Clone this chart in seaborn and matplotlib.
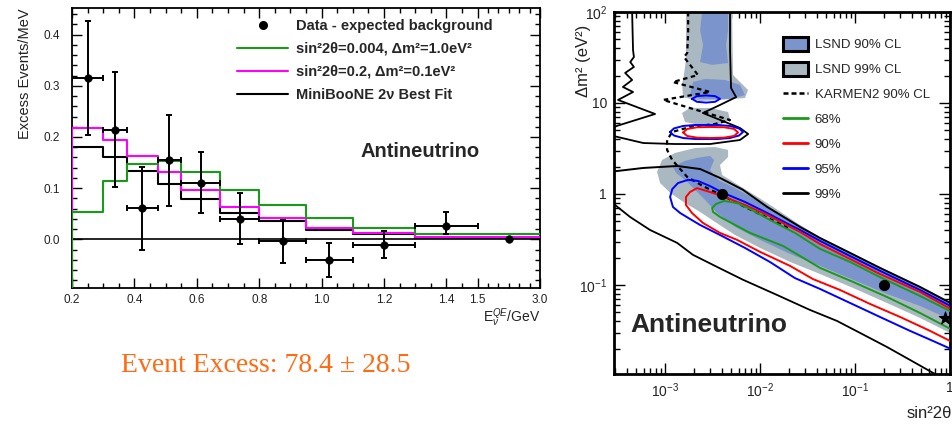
import numpy as np
import matplotlib
matplotlib.use("Agg")
import matplotlib.pyplot as plt
import seaborn as sns
from matplotlib.lines import Line2D
from matplotlib.patches import Patch
from matplotlib.ticker import FixedLocator, LogLocator, NullFormatter

# ---------------- left panel data ----------------
bin_edges = [0.2, 0.3, 0.375, 0.475, 0.55, 0.675, 0.8, 0.95, 1.1, 1.3, 1.5, 3.0]
green_hist = [0.054, 0.114, 0.148, 0.154, 0.131, 0.097, 0.067, 0.042, 0.022, 0.010, 0.010]
pink_hist = [0.218, 0.195, 0.163, 0.131, 0.097, 0.064, 0.041, 0.023, 0.012, 0.005, 0.005]
best_hist = [0.181, 0.160, 0.134, 0.108, 0.078, 0.052, 0.035, 0.018, 0.010, 0.003, 0.003]

data_x = [0.25, 0.3375, 0.425, 0.5125, 0.6125, 0.7375, 0.875, 1.025, 1.2, 1.4, 2.25]
data_y = [0.315, 0.214, 0.061, 0.155, 0.111, 0.040, -0.003, -0.040, -0.011, 0.026, 0.0]
data_y_hi = [0.427, 0.327, 0.142, 0.242, 0.171, 0.090, 0.037, -0.008, 0.016, 0.053, 0.0]
data_y_lo = [0.204, 0.103, -0.020, 0.065, 0.051, -0.010, -0.046, -0.073, -0.037, 0.010, 0.0]
data_x_lo = [0.2, 0.3, 0.375, 0.475, 0.55, 0.675, 0.8, 0.95, 1.1, 1.3, 2.25]
data_x_hi = [0.3, 0.375, 0.475, 0.55, 0.675, 0.8, 0.95, 1.1, 1.3, 1.5, 2.25]

xtick_vals = [0.2, 0.4, 0.6, 0.8, 1.0, 1.2, 1.4, 1.5, 3.0]
xtick_labels = ["0.2", "0.4", "0.6", "0.8", "1.0", "1.2", "1.4", "1.5", "3.0"]
ytick_vals = [0.0, 0.1, 0.2, 0.3, 0.4]
ytick_labels = ["0.0", "0.1", "0.2", "0.3", "0.4"]
legend_left_labels = ["Data - expected background",
                      "sin²2θ=0.004, Δm²=1.0eV²",
                      "sin²2θ=0.2, Δm²=0.1eV²",
                      "MiniBooNE 2ν Best Fit"]

# ---------------- right panel data ----------------
lsnd99_top_x = [1.66e-3, 1.66e-3, 1.58e-3, 1.51e-3, 1.55e-3, 2.34e-3, 3.79e-3, 6.95e-3, 7.48e-3, 6.15e-3, 5.20e-3, 5.07e-3]
lsnd99_top_y = [100, 29.7, 20.3, 15.8, 11.6, 10.5, 10.8, 11.35, 13.9, 17.0, 20.3, 100]
lsnd99_mid_x = [1.51e-3, 1.83e-3, 2.98e-3, 4.61e-3, 4.83e-3, 3.79e-3, 2.34e-3, 1.62e-3]
lsnd99_mid_y = [7.76, 8.81, 8.81, 7.96, 6.50, 5.88, 5.73, 6.18]
lsnd99_low_x = [8.24e-4, 9.29e-4, 1.27e-3, 2.07e-3, 3.36e-3, 4.61e-3, 4.61e-3, 3.79e-3, 3.98e-3, 6.15e-3,
                0.0119, 0.0264, 0.0428, 0.0886, 0.183, 0.483, 1.27, 1.27, 0.483, 0.217,
                0.0953, 0.0428, 0.0207, 0.01, 5.46e-3, 3.36e-3, 2.34e-3, 1.62e-3, 1.13e-3, 8.86e-4]
lsnd99_low_y = [1.75, 2.36, 2.82, 3.20, 3.28, 3.05, 2.55, 2.08, 1.62, 1.22,
                0.796, 0.456, 0.337, 0.231, 0.158, 0.0975, 0.0573, 0.0262, 0.0434, 0.0634,
                0.0927, 0.132, 0.179, 0.255, 0.354, 0.492, 0.634, 0.796, 1.03, 1.32]

lsnd90_top_x = [2.45e-3, 4.61e-3, 4.61e-3, 4.39e-3, 4.61e-3, 3.13e-3, 2.34e-3, 2.51e-3, 2.34e-3]
lsnd90_top_y = [100, 100, 63.4, 43.3, 27.5, 26.2, 28.2, 43.3, 63.4]
lsnd90_mid_x = [1.97e-3, 2.64e-3, 4.28e-3, 6.15e-3, 6.95e-3, 4.83e-3, 2.34e-3, 1.83e-3]
lsnd90_mid_y = [17.0, 18.4, 17.9, 15.8, 12.2, 11.1, 11.1, 12.2]
lsnd90_low_x = [1.21e-3, 1.62e-3, 2.17e-3, 2.98e-3, 3.28e-3, 2.98e-3, 3.61e-3, 5.46e-3, 0.0119, 0.0264,
                0.0428, 0.0886, 0.183, 0.483, 1.27, 1.27, 0.483, 0.217, 0.0953, 0.0428,
                0.0207, 0.01, 5.46e-3, 3.52e-3, 2.64e-3, 2.07e-3, 1.62e-3, 1.31e-3]
lsnd90_low_y = [1.98, 2.31, 2.49, 2.62, 2.36, 1.84, 1.43, 1.16, 0.738, 0.445,
                0.328, 0.225, 0.154, 0.0951, 0.0559, 0.0373, 0.0588, 0.0796, 0.114, 0.162,
                0.219, 0.313, 0.434, 0.618, 0.859, 1.11, 1.43, 1.70]

karmen_x = [1.75e-3, 1.75e-3, 1.71e-3, 1.58e-3, 2.22e-3, 1.21e-3, 2.98e-3, 9.53e-4, 4.83e-3, 3.36e-3,
            1.83e-3, 1.19e-3, 1.05e-3, 1.05e-3, 1.19e-3, 1.71e-3, 2.51e-3, 4.08e-3, 6.95e-3, 0.0127, 0.0207]
karmen_y = [100, 58.8, 35.4, 32.0, 20.3, 17.0, 13.2, 10.8, 6.50, 5.88,
            5.45, 4.80, 3.92, 3.05, 2.36, 1.54, 1.22, 0.951, 0.720, 0.531, 0.412]

cl99_a_x = [4.5e-4, 4.6e-4, 4.7e-4, 4.3e-4, 4.7e-4, 3.8e-4, 4.5e-4, 3.6e-4, 4.6e-4, 3.2e-4,
            7.85e-4, 3.1e-4, 2.3e-4, 2.85e-4, 5.9e-4, 1.27e-3, 2.98e-3, 6.15e-3, 7.5e-3, 6.15e-3,
            4.3e-3, 2.5e-3, 3.6e-3, 5.6e-3, 4.95e-3, 4.83e-3, 4.83e-3]
cl99_a_y = [100, 38.2, 32.0, 28.2, 24.9, 21.4, 17.9, 15.0, 13.2, 10.8,
            7.57, 5.59, 4.8, 4.34, 3.63, 3.54, 3.54, 3.92, 4.56, 5.31,
            6.18, 7.76, 9.27, 11.6, 14.6, 38.2, 100]
cl99_b_x = [2.07e-4, 5.86e-4, 1.34e-3, 2.34e-3, 3.79e-3, 6.62e-3, 0.0119, 0.0264, 0.0428, 0.0886, 0.183, 0.483, 1.27]
cl99_b_y = [1.70, 1.93, 2.03, 1.88, 1.50, 1.11, 0.720, 0.434, 0.328, 0.225, 0.154, 0.0951, 0.0559]
cl99_c_x = [2.33e-4, 4.28e-4, 6.95e-4, 1.34e-3, 1.97e-3, 3.52e-3, 6.62e-3, 0.0151, 0.0336, 0.0647,
            0.113, 0.217, 0.379, 0.662, 1.27]
cl99_c_y = [0.927, 0.559, 0.402, 0.290, 0.214, 0.158, 0.114, 0.0776, 0.0531, 0.0402,
            0.0297, 0.0208, 0.0150, 0.0108, 0.00757]

cl95_e1_x = [1.92e-3, 2.17e-3, 2.70e-3, 3.36e-3, 3.79e-3, 3.36e-3, 2.70e-3, 2.17e-3, 1.92e-3]
cl95_e1_y = [11.1, 11.9, 12.1, 11.9, 11.1, 10.3, 10.1, 10.3, 11.1]
cl95_e2_x = [1.13e-3, 1.24e-3, 1.55e-3, 2.07e-3, 2.70e-3, 3.61e-3, 4.83e-3, 6.01e-3, 6.62e-3,
             6.01e-3, 4.83e-3, 3.61e-3, 2.70e-3, 2.07e-3, 1.55e-3, 1.24e-3, 1.13e-3]
cl95_e2_y = [4.80, 5.25, 5.59, 5.73, 5.73, 5.73, 5.59, 5.25, 4.80,
             4.39, 4.12, 4.02, 4.02, 4.02, 4.12, 4.39, 4.80]
cl95_main_x = [1.27, 0.483, 0.183, 0.0886, 0.0428, 0.0264, 0.0207, 0.0119, 6.95e-3, 4.08e-3,
               2.98e-3, 2.22e-3, 1.75e-3, 1.37e-3, 1.19e-3, 1.13e-3, 1.21e-3, 1.44e-3, 1.83e-3, 2.34e-3,
               3.79e-3, 6.95e-3, 0.0127, 0.0233, 0.0428, 0.0886, 0.183, 0.379, 0.695, 1.27]
cl95_main_y = [0.0518, 0.0881, 0.143, 0.208, 0.305, 0.402, 0.456, 0.618, 0.817, 1.03,
               1.22, 1.39, 1.43, 1.32, 1.13, 0.927, 0.720, 0.618, 0.531, 0.456,
               0.354, 0.255, 0.179, 0.119, 0.0904, 0.0634, 0.0445, 0.0313, 0.0237, 0.0179]

cl90_e_x = [1.55e-3, 1.71e-3, 2.17e-3, 2.98e-3, 4.18e-3, 5.33e-3, 5.87e-3, 5.33e-3, 4.18e-3, 2.98e-3, 2.17e-3, 1.71e-3, 1.55e-3]
cl90_e_y = [4.74, 5.18, 5.41, 5.45, 5.41, 5.18, 4.74, 4.34, 4.16, 4.12, 4.16, 4.34, 4.74]
cl90_main_x = [1.27, 0.483, 0.183, 0.0886, 0.0428, 0.0264, 0.0119, 6.95e-3, 3.98e-3, 2.98e-3,
               2.17e-3, 1.83e-3, 1.66e-3, 1.66e-3, 1.92e-3, 2.51e-3, 3.79e-3, 5.73e-3, 0.01, 0.0207,
               0.0361, 0.0695, 0.144, 0.298, 0.616, 1.27]
cl90_main_y = [0.0480, 0.0838, 0.132, 0.193, 0.282, 0.382, 0.588, 0.757, 0.951, 1.05,
               1.16, 1.05, 0.927, 0.757, 0.618, 0.480, 0.373, 0.313, 0.231, 0.162,
               0.116, 0.0881, 0.0618, 0.0445, 0.0313, 0.0214]

cl68_x = [1.27, 0.483, 0.183, 0.0886, 0.0428, 0.0233, 0.0127, 7.85e-3, 5.73e-3, 4.18e-3,
          3.44e-3, 3.13e-3, 3.20e-3, 3.79e-3, 5.73e-3, 7.85e-3, 0.0175, 0.0264, 0.0428, 0.0953,
          0.217, 0.483, 1.27]
cl68_y = [0.0456, 0.0757, 0.122, 0.179, 0.249, 0.373, 0.518, 0.684, 0.796, 0.838,
          0.776, 0.702, 0.634, 0.559, 0.445, 0.373, 0.268, 0.208, 0.154, 0.108,
          0.0738, 0.0492, 0.0290]

test_points_x = [0.004, 0.2]
test_points_y = [1.0, 0.1]
best_fit_x = [0.88]
best_fit_y = [0.043]

rx_ticks = [1e-3, 1e-2, 1e-1, 1.0]
rx_labels = ["$10^{-3}$", "$10^{-2}$", "$10^{-1}$", "1"]
ry_ticks = [0.1, 1.0, 10.0, 100.0]
ry_labels = ["$10^{-1}$", "1", "10", "$10^{2}$"]
legend_right_labels = ["LSND 90% CL", "LSND 99% CL", "KARMEN2 90% CL", "68%", "90%", "95%", "99%"]

# ---------------- styling ----------------
sns.set_theme(style="ticks")
plt.rcParams['font.family'] = ['Liberation Sans', 'DejaVu Sans']
plt.rcParams['mathtext.fontset'] = 'custom'
plt.rcParams['mathtext.rm'] = 'Liberation Sans'
plt.rcParams['mathtext.it'] = 'Liberation Sans:italic'
plt.rcParams['mathtext.bf'] = 'Liberation Sans:bold'
plt.rcParams['axes.edgecolor'] = 'black'
plt.rcParams['xtick.color'] = 'black'
plt.rcParams['ytick.color'] = 'black'

GREEN = "#1a9a1a"
PINK = "#ff00ff"
BLUE_FILL = "#7b95cc"
GRAY_FILL = "#aab8c2"

fig = plt.figure(figsize=(9.53, 4.26), dpi=100)

# ================= LEFT PANEL =================
axL = fig.add_axes([72/953, 1-288/426, 468/953, 280/426])


def fwd(x):
    x = np.asarray(x, float)
    return np.where(x <= 1.5, x, 1.5 + (x - 1.5) * (0.2 / 1.5))


def inv(d):
    d = np.asarray(d, float)
    return np.where(d <= 1.5, d, 1.5 + (d - 1.5) * 7.5)


axL.set_xscale('function', functions=(fwd, inv))
axL.set_xlim(0.2, 3.0)
axL.set_ylim(-0.095, 0.452)

axL.axhline(0.0, color='black', lw=1.2, zorder=2)


def step_xy(vals):
    xs = [bin_edges[0]] + list(bin_edges)
    ys = [-0.2] + list(vals) + [vals[-1]]
    return xs, ys


for vals, col in [(best_hist, 'black'), (pink_hist, PINK), (green_hist, GREEN)]:
    xs, ys = step_xy(vals)
    sns.lineplot(x=xs, y=ys, sort=False, estimator=None, drawstyle='steps-post',
                 color=col, lw=1.5, ax=axL, legend=False, zorder=3)

dx = np.array(data_x); dy = np.array(data_y)
axL.errorbar(dx, dy,
             yerr=[dy - np.array(data_y_lo), np.array(data_y_hi) - dy],
             xerr=[dx - np.array(data_x_lo), np.array(data_x_hi) - dx],
             fmt='none', ecolor='black', elinewidth=1.4, capsize=2.3, capthick=1.4, zorder=4)
sns.scatterplot(x=data_x, y=data_y, color='black', s=30, edgecolor='black', ax=axL,
                legend=False, zorder=5)

axL.set_xticks(xtick_vals)
axL.set_xticklabels(xtick_labels)
axL.xaxis.set_minor_locator(FixedLocator([0.25, 0.3, 0.35, 0.45, 0.5, 0.55, 0.65, 0.7, 0.75,
                                          0.85, 0.9, 0.95, 1.05, 1.1, 1.15, 1.25, 1.3, 1.35, 1.45,
                                          1.75, 2.0, 2.25, 2.5, 2.75]))
axL.set_yticks(ytick_vals)
axL.set_yticklabels(ytick_labels)
axL.yaxis.set_minor_locator(FixedLocator(list(np.round(np.arange(-0.08, 0.45, 0.02), 3))))
axL.tick_params(which='both', direction='in', top=True, right=True, labelsize=8.5,
                labelcolor='#222222', pad=4)
axL.tick_params(axis='y', pad=9)
axL.tick_params(which='major', length=7, width=1)
axL.tick_params(which='minor', length=3.5, width=1)
for s in axL.spines.values():
    s.set_linewidth(1.3)
axL.set_xlabel(""); axL.set_ylabel("")

handlesL = [Line2D([], [], marker='o', ls='none', color='black', ms=5.5),
            Line2D([], [], color=GREEN, lw=1.5),
            Line2D([], [], color=PINK, lw=1.5),
            Line2D([], [], color='black', lw=1.5)]
axL.legend(handlesL, legend_left_labels, loc='upper left', bbox_to_anchor=(0.353, 0.962),
           frameon=False, prop={'weight': 'bold', 'size': 10.5}, handlelength=3.5,
           handletextpad=0.5, labelspacing=0.62, borderpad=0, borderaxespad=0)

axL.text(0.744, 0.486, "Antineutrino", transform=axL.transAxes, ha='center', va='center',
         fontsize=14.5, fontweight='bold')

fig.text(25/953, 1-8/426, "Excess Events/MeV", rotation=90, ha='center', va='top',
         fontsize=10.5, color='#222222')
fig.text(540/953, 1-318/426, r"E$_{\nu}^{QE}$/GeV", ha='right', va='center', fontsize=10,
         color='#222222')

fig.text(266/953, 1-366/426, "Event Excess: 78.4 ± 28.5", family='Liberation Serif',
         fontsize=20, color='#ff6a13', ha='center', va='center')

# ================= RIGHT PANEL =================
axR = fig.add_axes([614/953, 1-374/426, 336/953, 362/426])
axR.set_xscale('log'); axR.set_yscale('log')

for xs, ys in [(lsnd99_top_x, lsnd99_top_y), (lsnd99_mid_x, lsnd99_mid_y), (lsnd99_low_x, lsnd99_low_y)]:
    axR.fill(xs, ys, color=GRAY_FILL, lw=0, zorder=1)
for xs, ys in [(lsnd90_top_x, lsnd90_top_y), (lsnd90_mid_x, lsnd90_mid_y), (lsnd90_low_x, lsnd90_low_y)]:
    axR.fill(xs, ys, color=BLUE_FILL, lw=0, zorder=2)

sns.lineplot(x=karmen_x, y=karmen_y, sort=False, estimator=None, color='black', lw=1.6,
             linestyle=(0, (2, 1.6)), ax=axR, legend=False, zorder=3)

contours = [(cl99_a_x, cl99_a_y, 'black', 1.3), (cl99_b_x, cl99_b_y, 'black', 1.4),
            (cl99_c_x, cl99_c_y, 'black', 1.3),
            (cl95_e1_x, cl95_e1_y, 'blue', 1.4), (cl95_e2_x, cl95_e2_y, 'blue', 1.4),
            (cl95_main_x, cl95_main_y, 'blue', 1.4),
            (cl90_e_x, cl90_e_y, 'red', 1.4), (cl90_main_x, cl90_main_y, 'red', 1.4),
            (cl68_x, cl68_y, GREEN, 1.4)]
for xs, ys, col, lw in contours:
    sns.lineplot(x=xs, y=ys, sort=False, estimator=None, color=col, lw=lw, ax=axR,
                 legend=False, zorder=4)

sns.scatterplot(x=test_points_x, y=test_points_y, color='black', s=55, edgecolor='black',
                ax=axR, legend=False, zorder=6)
sns.scatterplot(x=best_fit_x, y=best_fit_y, color='black', marker='*', s=90, edgecolor='black',
                ax=axR, legend=False, zorder=6)

axR.set_xlim(2.9e-4, 1.0)
axR.set_ylim(0.0105, 100)
axR.set_xticks(rx_ticks); axR.set_xticklabels(rx_labels)
axR.set_yticks(ry_ticks); axR.set_yticklabels(ry_labels)
axR.xaxis.set_minor_locator(LogLocator(base=10, subs=np.arange(2, 10), numticks=20))
axR.yaxis.set_minor_locator(LogLocator(base=10, subs=np.arange(2, 10), numticks=20))
axR.xaxis.set_minor_formatter(NullFormatter())
axR.yaxis.set_minor_formatter(NullFormatter())
axR.tick_params(which='both', direction='in', top=True, right=True, labelsize=10,
                labelcolor='#222222', pad=5)
axR.tick_params(which='major', length=8, width=1)
axR.tick_params(which='minor', length=4, width=1)
for s in axR.spines.values():
    s.set_linewidth(2)
axR.set_xlabel(""); axR.set_ylabel("")

handlesR = [Patch(facecolor=BLUE_FILL, edgecolor='black', lw=2.2),
            Patch(facecolor=GRAY_FILL, edgecolor='black', lw=2.2),
            Line2D([], [], color='black', lw=1.8, ls=(0, (2, 1.2))),
            Line2D([], [], color=GREEN, lw=2),
            Line2D([], [], color='red', lw=2),
            Line2D([], [], color='blue', lw=2),
            Line2D([], [], color='black', lw=2)]
axR.legend(handlesR, legend_right_labels, loc='upper left', bbox_to_anchor=(0.503, 0.931),
           frameon=False, fontsize=9.5, handlelength=1.9, handleheight=1.2,
           handletextpad=0.5, labelspacing=0.82, borderpad=0, borderaxespad=0)

axR.text(0.048, 0.135, "Antineutrino", transform=axR.transAxes, ha='left', va='center',
         fontsize=19, fontweight='bold')

fig.text(584/953, 1-97/426, "Δm² (eV²)", rotation=90, ha='center', va='bottom',
         fontsize=12, color='#222222')
fig.text(952/953, 1-413/426, "sin²2θ", ha='right', va='center', fontsize=12, color='#222222')

fig.savefig("out.png", dpi=100)
